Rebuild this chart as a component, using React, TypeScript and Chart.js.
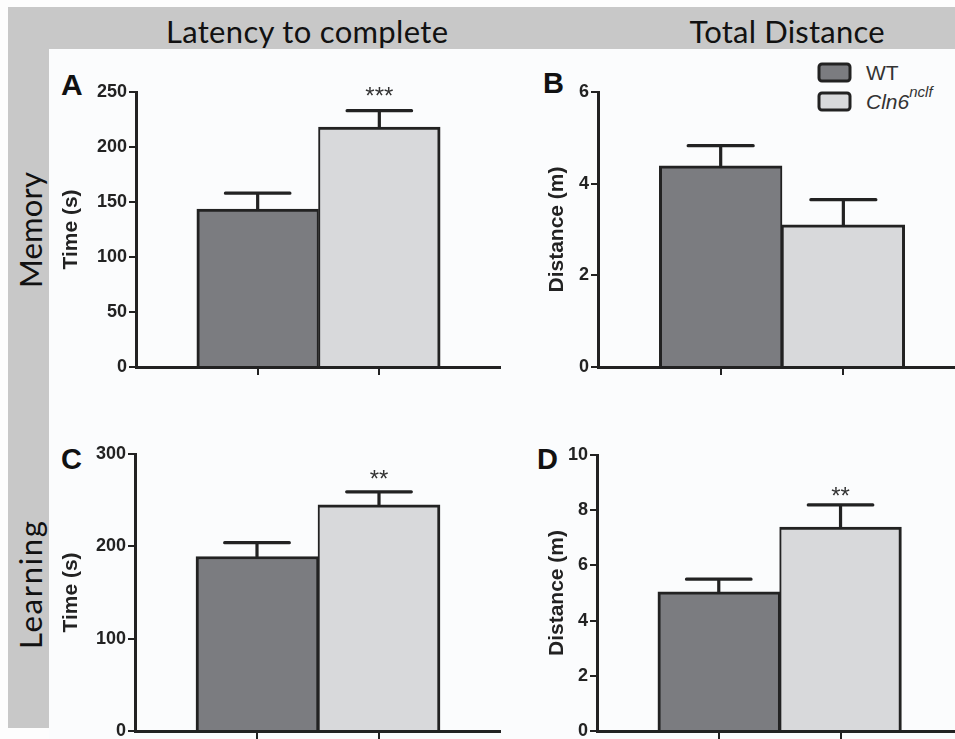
import React, { useEffect, useRef } from 'react';
import { Chart, registerables } from 'chart.js';

Chart.register(...registerables);

// ---------- data ----------
const groups = ['WT', 'Cln6nclf'];
const groupColors = ['#7b7c80', '#d8d9db'];

const memoryLatency = [143.5, 218];
const memoryLatencySem = [14.5, 15];
const memoryLatencyStars = ['', '***'];

const memoryDistance = [4.39, 3.1];
const memoryDistanceSem = [0.44, 0.55];
const memoryDistanceStars = ['', ''];

const learningLatency = [189, 245];
const learningLatencySem = [15, 14];
const learningLatencyStars = ['', '**'];

const learningDistance = [5.04, 7.39];
const learningDistanceSem = [0.46, 0.8];
const learningDistanceStars = ['', '**'];

const latencyTicks = { max: 250, step: 50 };
const learningLatencyTicks = { max: 300, step: 100 };
const memoryDistanceTicks = { max: 6, step: 2 };
const learningDistanceTicks = { max: 10, step: 2 };

const columnTitles = ['Latency to complete', 'Total Distance'];
const rowTitles = ['Memory', 'Learning'];
const panelLetters = ['A', 'B', 'C', 'D'];
const yTitles = ['Time (s)', 'Distance (m)'];

const INK = '#222';
const XAXIS_H = 16;

type PanelProps = {
  left: number; top: number; width: number; height: number;
  values: number[]; sems: number[]; stars: string[];
  yMax: number; yStep: number; xMax: number; yTitle: string;
  padTop: number; axisWidth: number; titlePad: number; starGap: number;
};

function BarPanel(p: PanelProps) {
  const ref = useRef<HTMLCanvasElement>(null);
  useEffect(() => {
    const canvas = ref.current!;
    const errorBars = {
      id: 'errorBars',
      afterDatasetsDraw(chart: any) {
        const meta = chart.getDatasetMeta(0);
        const ys = chart.scales.y;
        const ctx = chart.ctx;
        ctx.save();
        meta.data.forEach((el: any, i: number) => {
          const yTop = ys.getPixelForValue(p.values[i] + p.sems[i]);
          const x = el.x;
          const half = el.width * 0.265;
          ctx.strokeStyle = INK;
          ctx.lineWidth = 3.2;
          ctx.lineCap = 'round';
          ctx.beginPath();
          ctx.moveTo(x, el.y);
          ctx.lineTo(x, yTop);
          ctx.moveTo(x - half, yTop);
          ctx.lineTo(x + half, yTop);
          ctx.stroke();
          if (p.stars[i]) {
            ctx.fillStyle = '#333';
            ctx.font = '24px "Liberation Sans", Arial, sans-serif';
            ctx.textAlign = 'center';
            ctx.textBaseline = 'alphabetic';
            ctx.fillText(p.stars[i], x, yTop - p.starGap + 13);
          }
        });
        ctx.restore();
      },
    };
    const chart = new Chart(canvas, {
      type: 'bar',
      data: {
        labels: groups,
        datasets: [
          {
            label: 'groups',
            data: p.values.map((v, i) => ({ x: i + 1, y: v })),
            backgroundColor: groupColors,
            borderColor: INK,
            borderWidth: [
              { top: 3, left: 3, right: 2, bottom: 0 },
              { top: 3, left: 2, right: 3, bottom: 0 },
            ] as any,
            borderSkipped: 'start',
            barPercentage: 1,
            categoryPercentage: 1,
            grouped: false,
          } as any,
        ],
      },
      options: {
        responsive: false,
        animation: false,
        devicePixelRatio: 1,
        layout: { padding: { top: p.padTop, bottom: 0, left: 0, right: 0 } },
        plugins: { legend: { display: false }, tooltip: { enabled: false } },
        scales: {
          x: {
            type: 'linear',
            min: 0,
            max: p.xMax,
            offset: false,
            afterBuildTicks: (s: any) => { s.ticks = [{ value: 1 }, { value: 2 }]; },
            afterFit: (s: any) => { s.height = XAXIS_H; },
            ticks: { display: false },
            grid: { offset: false, drawOnChartArea: false, drawTicks: true, tickLength: 8, color: INK, lineWidth: 2 },
            border: { display: true, color: INK, width: 3 },
          },
          y: {
            type: 'linear',
            min: 0,
            max: p.yMax,
            afterFit: (s: any) => { s.width = p.axisWidth; },
            ticks: {
              stepSize: p.yStep,
              color: INK,
              padding: 2,
              font: { family: '"Liberation Sans", Arial, sans-serif', size: 18, weight: 'bold' },
            },
            grid: { drawOnChartArea: false, drawTicks: true, tickLength: 7, color: INK, lineWidth: 2 },
            border: { display: true, color: INK, width: 3 },
            title: {
              display: true,
              text: p.yTitle,
              color: INK,
              padding: { top: p.titlePad, bottom: 0 },
              font: { family: '"Liberation Sans", Arial, sans-serif', size: 21, weight: 'bold' },
            },
          },
        },
      } as any,
      plugins: [errorBars],
    });
    return () => chart.destroy();
  }, []);
  return (
    <canvas
      ref={ref}
      width={p.width}
      height={p.height}
      style={{ position: 'absolute', left: p.left, top: p.top, width: p.width, height: p.height }}
    />
  );
}

export default function App() {
  const gray = '#c8c8c8';
  const calibriLike = 'Lato, "Open Sans", sans-serif';
  const arial = '"Liberation Sans", Arial, sans-serif';
  return (
    <div style={{ position: 'fixed', left: 0, top: 0, width: 955, height: 739, overflow: 'hidden', background: '#fff' }}>
      <svg width={955} height={739} style={{ position: 'absolute', left: 0, top: 0 }}>
        <rect x={0} y={0} width={955} height={739} fill="#fdfdfd" />
        <rect x={49} y={49} width={906} height={690} fill="#fbfcfd" />
        <rect x={8} y={7} width={947} height={42} fill={gray} />
        <rect x={8} y={7} width={41} height={721} fill={gray} />
        <text x={307} y={43} fontFamily={calibriLike} fontSize={31} fill="#111" textAnchor="middle" textLength={282}>{columnTitles[0]}</text>
        <text x={787} y={43} fontFamily={calibriLike} fontSize={31} fill="#111" textAnchor="middle" textLength={195}>{columnTitles[1]}</text>
        <text transform="translate(42,230) rotate(-90)" fontFamily={calibriLike} fontSize={31} fill="#111" textAnchor="middle" textLength={116}>{rowTitles[0]}</text>
        <text transform="translate(42,585) rotate(-90)" fontFamily={calibriLike} fontSize={31} fill="#111" textAnchor="middle" textLength={128}>{rowTitles[1]}</text>
        <text x={61} y={95} fontFamily={arial} fontWeight="bold" fontSize={30} fill="#111">{panelLetters[0]}</text>
        <text x={543} y={93} fontFamily={arial} fontWeight="bold" fontSize={29} fill="#111">{panelLetters[1]}</text>
        <text x={61} y={469} fontFamily={arial} fontWeight="bold" fontSize={29} fill="#111">{panelLetters[2]}</text>
        <text x={537} y={469} fontFamily={arial} fontWeight="bold" fontSize={29} fill="#111">{panelLetters[3]}</text>
        <rect x={819} y={64} width={31} height={17} rx={3} fill={groupColors[0]} stroke={INK} strokeWidth={3} />
        <rect x={819} y={93} width={31} height={17} rx={3} fill={groupColors[1]} stroke={INK} strokeWidth={3} />
        <text x={866} y={80} fontFamily={arial} fontSize={21} fill="#333">WT</text>
        <text x={866} y={109} fontFamily={arial} fontSize={21} fontStyle="italic" fill="#333">
          Cln6<tspan dy={-12} fontSize={15}>nclf</tspan>
        </text>
      </svg>
      <BarPanel left={49} top={49} width={452} height={367 + XAXIS_H - 49} values={memoryLatency} sems={memoryLatencySem} stars={memoryLatencyStars}
        yMax={latencyTicks.max} yStep={latencyTicks.step} xMax={3} yTitle={yTitles[0]} padTop={43} axisWidth={87} titlePad={10} starGap={20} />
      <BarPanel left={501} top={49} width={454} height={367 + XAXIS_H - 49} values={memoryDistance} sems={memoryDistanceSem} stars={memoryDistanceStars}
        yMax={memoryDistanceTicks.max} yStep={memoryDistanceTicks.step} xMax={2.91} yTitle={yTitles[1]} padTop={43} axisWidth={97} titlePad={44} starGap={20} />
      <BarPanel left={49} top={401} width={452} height={731 + XAXIS_H - 401} values={learningLatency} sems={learningLatencySem} stars={learningLatencyStars}
        yMax={learningLatencyTicks.max} yStep={learningLatencyTicks.step} xMax={3} yTitle={yTitles[0]} padTop={53} axisWidth={86} titlePad={10} starGap={18} />
      <BarPanel left={501} top={401} width={454} height={731 + XAXIS_H - 401} values={learningDistance} sems={learningDistanceSem} stars={learningDistanceStars}
        yMax={learningDistanceTicks.max} yStep={learningDistanceTicks.step} xMax={2.94} yTitle={yTitles[1]} padTop={54} axisWidth={96} titlePad={44} starGap={14} />
    </div>
  );
}
